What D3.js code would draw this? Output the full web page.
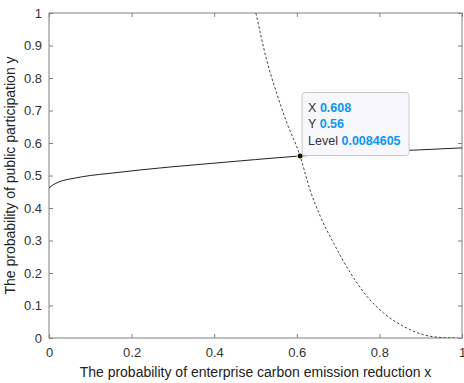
<!DOCTYPE html>
<html>
<head>
<meta charset="utf-8">
<script src="https://cdn.jsdelivr.net/npm/d3@7"></script>
<style>
body { margin: 0; background: #fff; }
text { font-family: "Liberation Sans", Arial, sans-serif; }
</style>
</head>
<body>
<div id="chart"></div>
<script>
// solid curve (public participation)
var solidX = [0, 0.005, 0.015, 0.03, 0.058, 0.1, 0.15, 0.22, 0.3, 0.382, 0.5, 0.608, 0.7, 0.785, 0.9, 1.0];
var solidY = [0.461, 0.467, 0.475, 0.483, 0.491, 0.5, 0.507, 0.517, 0.527, 0.536, 0.549, 0.56, 0.567, 0.573, 0.579, 0.585];
// dashed curve (enterprise)
var dashX = [0.501, 0.527, 0.551, 0.576, 0.608, 0.632, 0.657, 0.689, 0.73, 0.77, 0.81, 0.858, 0.907, 0.955, 0.99];
var dashY = [1.0, 0.856, 0.754, 0.662, 0.56, 0.456, 0.374, 0.292, 0.2, 0.128, 0.077, 0.036, 0.01, 0.001, 0.0];
var tipX = 0.608, tipY = 0.56, tipLevel = "0.0084605";
var xTicks = [0, 0.2, 0.4, 0.6, 0.8, 1];
var yTicks = [0, 0.1, 0.2, 0.3, 0.4, 0.5, 0.6, 0.7, 0.8, 0.9, 1];

var margin = {top: 13, right: 2, bottom: 45, left: 49};
var W = 464, H = 383;
var width = W - margin.left - margin.right;
var height = H - margin.top - margin.bottom;

var svg = d3.select("#chart").append("svg")
  .attr("width", W).attr("height", H)
  .append("g")
  .attr("transform", "translate(" + margin.left + "," + margin.top + ")");

var x = d3.scaleLinear().domain([0, 1]).range([0, width]);
var y = d3.scaleLinear().domain([0, 1]).range([height, 0]);

svg.append("clipPath").attr("id", "clip")
  .append("rect").attr("width", width).attr("height", height);

var fmt = function (d) { return d === 0 ? "0" : d === 1 ? "1" : d3.format(".1f")(d); };
var axisColor = "#808080";

function styleAxis(g) {
  g.select(".domain").remove();
  g.selectAll("line").attr("stroke", axisColor);
  g.selectAll("text").attr("fill", "#333").style("font-size", "13px");
}

svg.append("g").attr("transform", "translate(0," + height + ")")
  .call(d3.axisBottom(x).tickValues(xTicks).tickFormat(fmt).tickSizeInner(-4).tickPadding(10))
  .call(styleAxis);
svg.append("g")
  .call(d3.axisLeft(y).tickValues(yTicks).tickFormat(fmt).tickSizeInner(-4).tickPadding(7))
  .call(styleAxis);
svg.append("g")
  .call(d3.axisTop(x).tickValues(xTicks).tickFormat("").tickSizeInner(-4))
  .call(styleAxis);
svg.append("g").attr("transform", "translate(" + width + ",0)")
  .call(d3.axisRight(y).tickValues(yTicks).tickFormat("").tickSizeInner(-4))
  .call(styleAxis);

svg.append("rect")
  .attr("width", width).attr("height", height)
  .attr("fill", "none").attr("stroke", axisColor).attr("stroke-width", 1);

var line = d3.line()
  .x(function (d) { return x(d[0]); })
  .y(function (d) { return y(d[1]); })
  .curve(d3.curveMonotoneX);

svg.append("path")
  .datum(solidX.map(function (v, i) { return [v, solidY[i]]; }))
  .attr("clip-path", "url(#clip)")
  .attr("fill", "none").attr("stroke", "#222").attr("stroke-width", 1)
  .attr("d", line);

svg.append("path")
  .datum(dashX.map(function (v, i) { return [v, dashY[i]]; }))
  .attr("clip-path", "url(#clip)")
  .attr("fill", "none").attr("stroke", "#444").attr("stroke-width", 1)
  .attr("stroke-dasharray", "2.5,2")
  .attr("d", line);

// data tip
svg.append("circle")
  .attr("cx", x(tipX)).attr("cy", y(tipY)).attr("r", 3)
  .attr("fill", "#111").attr("stroke", "#f2eeb0").attr("stroke-width", 1);

var tip = svg.append("g")
  .attr("transform", "translate(" + (x(tipX) + 2) + "," + (y(tipY) - 63.5) + ")");
tip.append("rect")
  .attr("width", 107).attr("height", 63).attr("rx", 3)
  .attr("fill", "#f8f8fc").attr("stroke", "#c8c8c8");
var rows = [["X", String(tipX)], ["Y", String(tipY)], ["Level", tipLevel]];
rows.forEach(function (r, i) {
  var t = tip.append("text")
    .attr("x", 6).attr("y", 19 + i * 16.7)
    .style("font-size", "12.5px");
  t.append("tspan").attr("fill", "#333").text(r[0] + " ");
  t.append("tspan").attr("fill", "#0a96f0").attr("font-weight", "bold").text(r[1]);
});

svg.append("text")
  .attr("x", width / 2).attr("y", height + 39)
  .attr("text-anchor", "middle").attr("fill", "#222")
  .style("font-size", "14px")
  .text("The probability of enterprise carbon emission reduction x");

svg.append("text")
  .attr("transform", "rotate(-90)")
  .attr("x", -height / 2).attr("y", -34)
  .attr("text-anchor", "middle").attr("fill", "#222")
  .style("font-size", "14px")
  .text("The probability of public participation y");
</script>
</body>
</html>
